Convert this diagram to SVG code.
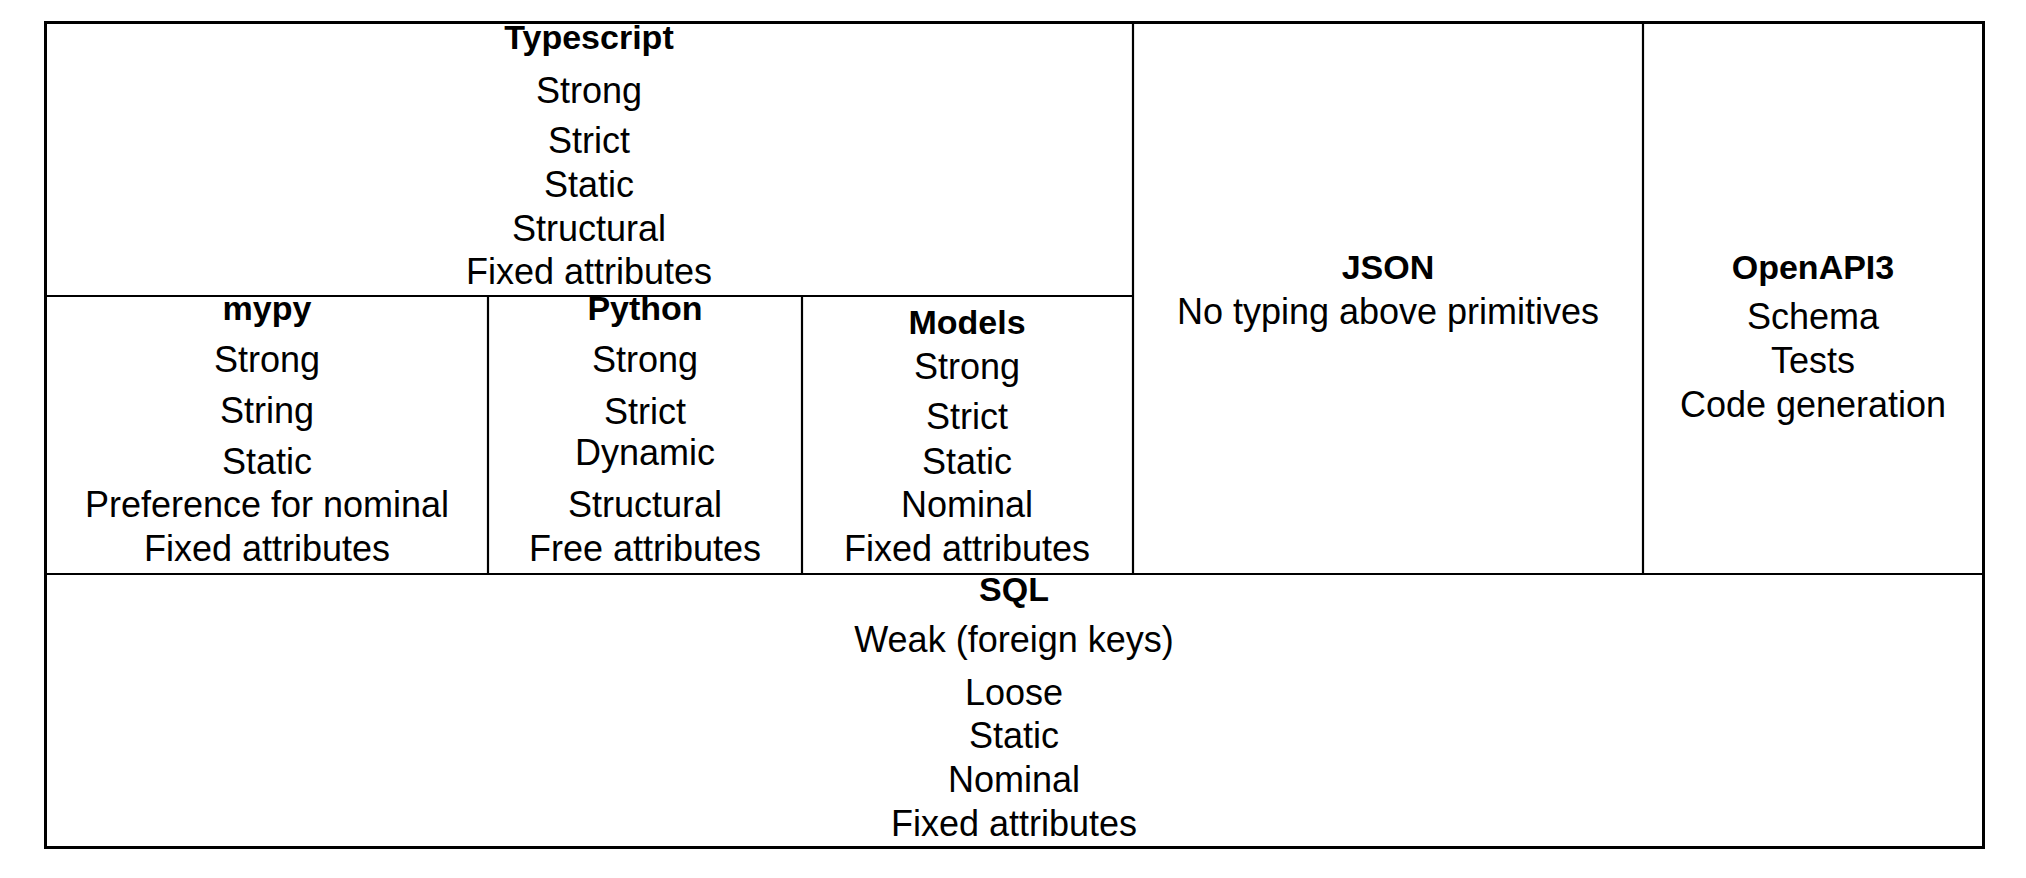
<svg xmlns="http://www.w3.org/2000/svg" width="2026" height="878" viewBox="0 0 2026 878">
<style>
.t{font-family:"Liberation Sans",Arial,sans-serif;font-size:36px;fill:#000;text-anchor:middle}
.b{font-weight:bold;font-size:34px}
.ln{stroke:#000;stroke-width:2.2;fill:none}
.outer{stroke:#000;stroke-width:3;fill:none}
</style>
<rect width="2026" height="878" fill="#fff"/>
<g id="connectors">
<rect class="outer" x="45.5" y="22.5" width="1938" height="825"/>
<line class="ln" x1="45.5" y1="296" x2="1133" y2="296"/>
<line class="ln" x1="45.5" y1="574" x2="1983.5" y2="574"/>
<line class="ln" x1="1133" y1="22.5" x2="1133" y2="574"/>
<line class="ln" x1="1643" y1="22.5" x2="1643" y2="574"/>
<line class="ln" x1="488" y1="296" x2="488" y2="574"/>
<line class="ln" x1="802" y1="296" x2="802" y2="574"/>
</g>
<g id="typescript">
<text class="t b" x="589" y="49">Typescript</text>
<text class="t" x="589" y="103">Strong</text>
<text class="t" x="589" y="153">Strict</text>
<text class="t" x="589" y="197">Static</text>
<text class="t" x="589" y="241">Structural</text>
<text class="t" x="589" y="284">Fixed attributes</text>
</g>
<g id="mypy">
<text class="t b" x="267" y="320">mypy</text>
<text class="t" x="267" y="372">Strong</text>
<text class="t" x="267" y="423">String</text>
<text class="t" x="267" y="474">Static</text>
<text class="t" x="267" y="517">Preference for nominal</text>
<text class="t" x="267" y="561">Fixed attributes</text>
</g>
<g id="python">
<text class="t b" x="645" y="320">Python</text>
<text class="t" x="645" y="372">Strong</text>
<text class="t" x="645" y="424">Strict</text>
<text class="t" x="645" y="465">Dynamic</text>
<text class="t" x="645" y="517">Structural</text>
<text class="t" x="645" y="561">Free attributes</text>
</g>
<g id="models">
<text class="t b" x="967" y="334">Models</text>
<text class="t" x="967" y="379">Strong</text>
<text class="t" x="967" y="429">Strict</text>
<text class="t" x="967" y="474">Static</text>
<text class="t" x="967" y="517">Nominal</text>
<text class="t" x="967" y="561">Fixed attributes</text>
</g>
<g id="json">
<text class="t b" x="1388" y="279">JSON</text>
<text class="t" x="1388" y="324">No typing above primitives</text>
</g>
<g id="openapi3">
<text class="t b" x="1813" y="279">OpenAPI3</text>
<text class="t" x="1813" y="329">Schema</text>
<text class="t" x="1813" y="373">Tests</text>
<text class="t" x="1813" y="417">Code generation</text>
</g>
<g id="sql">
<text class="t b" x="1014" y="601">SQL</text>
<text class="t" x="1014" y="652">Weak (foreign keys)</text>
<text class="t" x="1014" y="705">Loose</text>
<text class="t" x="1014" y="748">Static</text>
<text class="t" x="1014" y="792">Nominal</text>
<text class="t" x="1014" y="836">Fixed attributes</text>
</g>
</svg>
